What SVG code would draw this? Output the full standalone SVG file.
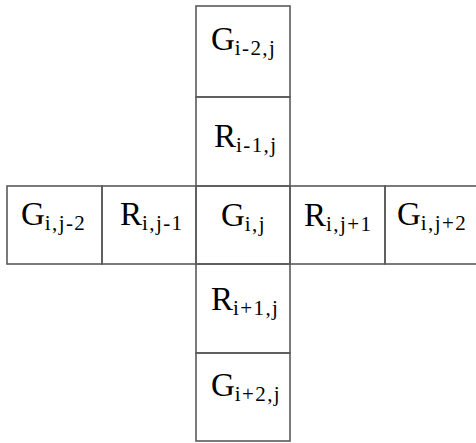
<svg xmlns="http://www.w3.org/2000/svg" width="476" height="443" viewBox="0 0 476 443">
<style>
.cell{fill:none;stroke:#5a5a5a;stroke-width:1.6}
.t{font-family:"Liberation Serif","Times New Roman",serif;font-size:33px;fill:#000}
.s{font-size:21px;letter-spacing:1.4px}
</style>
<rect width="476" height="443" fill="#fff"/>
<g id="G_im2_j"><rect class="cell" x="196" y="6" width="94" height="91"/><text class="t" x="211" y="50">G<tspan class="s" dy="5">i-2,j</tspan></text></g>
<g id="R_im1_j"><rect class="cell" x="196" y="97" width="94" height="89"/><text class="t" x="214" y="147">R<tspan class="s" dy="5">i-1,j</tspan></text></g>
<g id="G_i_jm2"><rect class="cell" x="7" y="186" width="95" height="78"/><text class="t" x="21" y="225">G<tspan class="s" dy="5">i,j-2</tspan></text></g>
<g id="R_i_jm1"><rect class="cell" x="102" y="186" width="94" height="78"/><text class="t" x="120" y="225">R<tspan class="s" dy="5">i,j-1</tspan></text></g>
<g id="G_i_j"><rect class="cell" x="196" y="186" width="94" height="78"/><text class="t" x="221" y="226">G<tspan class="s" dy="5">i,j</tspan></text></g>
<g id="R_i_jp1"><rect class="cell" x="290" y="186" width="95" height="78"/><text class="t" x="304" y="226">R<tspan class="s" dy="5">i,j+1</tspan></text></g>
<g id="G_i_jp2"><rect class="cell" x="385" y="186" width="95" height="78"/><text class="t" x="397" y="225">G<tspan class="s" dy="5">i,j+2</tspan></text></g>
<g id="R_ip1_j"><rect class="cell" x="196" y="264" width="94" height="89"/><text class="t" x="211" y="310">R<tspan class="s" dy="5">i+1,j</tspan></text></g>
<g id="G_ip2_j"><rect class="cell" x="196" y="353" width="94" height="88"/><text class="t" x="211" y="396">G<tspan class="s" dy="5">i+2,j</tspan></text></g>
<g id="connectors"></g>
</svg>
